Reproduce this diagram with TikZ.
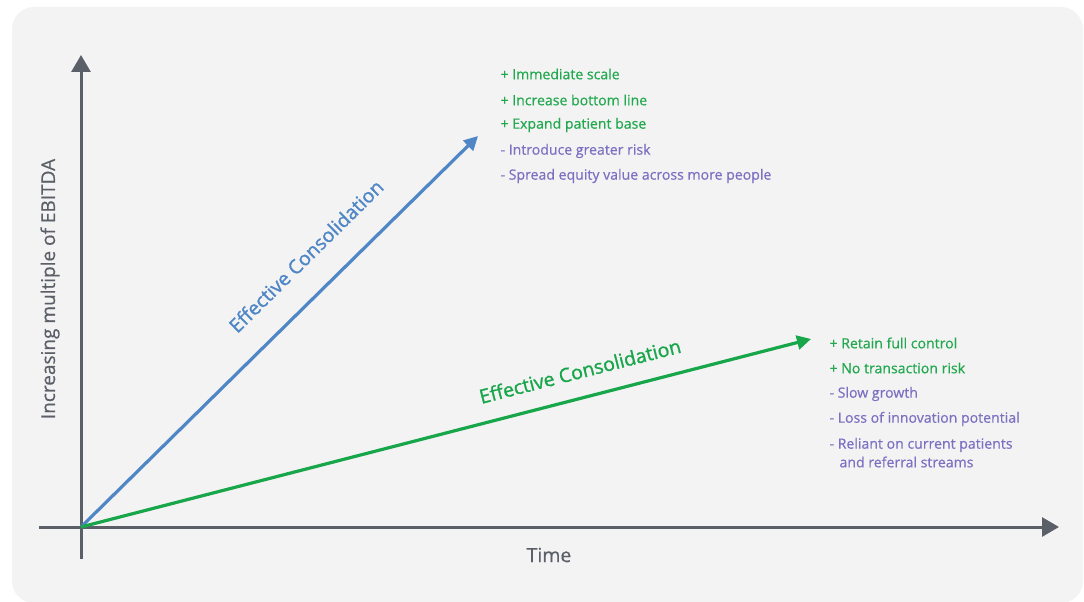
\documentclass[tikz,border=0pt]{standalone}
\usepackage{fontspec}
\setmainfont{Open Sans}
\newfontfamily\medfont[FakeBold=0.5]{Open Sans}
\newfontfamily\semifont[FakeBold=1.2]{Open Sans}
\usetikzlibrary{arrows.meta}
\definecolor{panel}{HTML}{F3F3F3}
\definecolor{axisgray}{HTML}{5B5F67}
\definecolor{bluefast}{HTML}{4F86C6}
\definecolor{greenslow}{HTML}{17A64A}
\definecolor{prosgreen}{HTML}{22A84F}
\definecolor{conspurple}{HTML}{7B70C2}
\newcommand{\listsize}{\medfont\fontsize{14.1}{16}\selectfont}
\newcommand{\pro}[3]{
	\node[anchor=west, text=prosgreen, font=\listsize] (#1) at (#2) {+ #3};
}
\newcommand{\con}[3]{
	\node[anchor=west, text=conspurple, font=\listsize] (#1) at (#2) {- #3};
}

\begin{document}
\begin{tikzpicture}[x=1pt,y=-1pt]
	\useasboundingbox (0,0) rectangle (1084,602);
	\fill[panel, rounded corners=22pt] (12,7) rectangle (1083,603);
	\coordinate (O) at (81,527);
	\coordinate (Ybot) at (81,559);
	\coordinate (Ytop) at (81,55);
	\coordinate (Xleft) at (39,527);
	\coordinate (Xright) at (1059,527);
	\coordinate (Fast) at (478,136);
	\coordinate (Slow) at (811,339);

	\draw[axisgray, line width=3pt, -{Triangle[width=19pt,length=17pt]}] (Ybot) -- (Ytop);
	\draw[axisgray, line width=3pt, -{Triangle[width=19pt,length=17pt]}] (Xleft) -- (Xright);
	\draw[bluefast, line width=3.2pt, -{Triangle[width=14pt,length=14pt]}] (O) -- (Fast);
	\draw[greenslow, line width=3.2pt, -{Triangle[width=14pt,length=14pt]}] (O) -- (Slow);

	\node[rotate=44.6, text=bluefast, font=\semifont\fontsize{19.5}{22}\selectfont] (fastlabel) at (306,256) {Effective Consolidation};
	\node[rotate=14.4, text=greenslow, font=\semifont\fontsize{19.5}{22}\selectfont] (slowlabel) at (580,371) {Effective Consolidation};
	\node[rotate=90, text=axisgray, font=\medfont\fontsize{19}{22}\selectfont] (ylabel) at (50,289) {Increasing multiple of EBITDA};
	\node[text=axisgray, font=\medfont\fontsize{19.5}{22}\selectfont] (xlabel) at (549,555) {Time};

	\pro{p1}{497,74}{Immediate scale}
	\pro{p2}{497,100}{Increase bottom line}
	\pro{p3}{497,125}{Expand patient base}
	\con{c1}{497,151}{Introduce greater risk}
	\con{c2}{497,176}{Spread equity value across more people}

	\pro{p4}{826,343}{Retain full control}
	\pro{p5}{826,368}{No transaction risk}
	\con{c3}{826,394}{Slow growth}
	\con{c4}{826,419}{Loss of innovation potential}
	\con{c5}{826,445}{Reliant on current patients}
	\node[anchor=west, text=conspurple, font=\listsize] (c5b) at (836,462) {and referral streams};
\end{tikzpicture}
\end{document}
